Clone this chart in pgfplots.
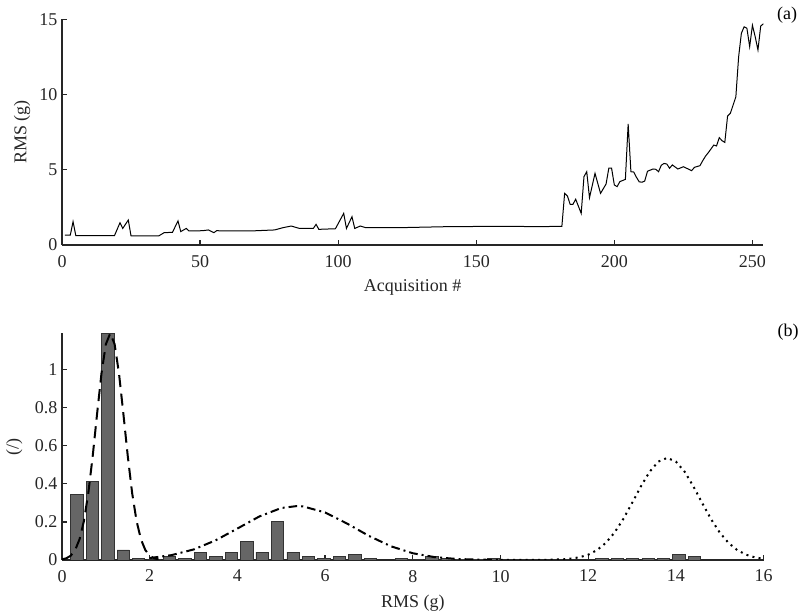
\documentclass[border=0pt]{standalone}
\usepackage{fontspec}
\setmainfont{Liberation Serif}
\usepackage{pgfplots}
\pgfplotsset{compat=1.18}
\definecolor{axgray}{HTML}{262626}
\definecolor{bargray}{HTML}{666666}

\pgfplotsset{
  panel/.style={
    scale only axis,
    axis x line*=bottom, axis y line*=left,
    axis line style={axgray, line width=1pt},
    tick align=inside,
    major tick length=4pt,
    tick style={axgray, line width=1pt},
    every tick label/.append style={font=\fontsize{13.5}{16}\selectfont, text=axgray},
    label style={font=\fontsize{13.5}{16}\selectfont, text=axgray},
    /pgf/number format/assume math mode=true,
    xticklabel style={yshift=-4pt},
  },
}

\begin{document}
\begin{tikzpicture}
\path[use as bounding box] (0,0) rectangle (598.5pt,462pt);

% (a) RMS per acquisition
\begin{axis}[panel,
  at={(46.5pt,278.25pt)}, anchor=south west,
  width=526.1pt, height=169.3pt,
  xmin=0, xmax=254, ymin=0, ymax=15,
  xtick={0,50,100,150,200,250}, ytick={0,5,10,15},
  xlabel={Acquisition \#}, ylabel={RMS (g)},
  xlabel style={at={(axis description cs:0.5,-0.19)}, anchor=center},
  ylabel style={at={(axis description cs:-0.057,0.5)}, anchor=center, rotate=0},
]
\addplot[black, line width=0.75pt] coordinates {
  (1,0.65)(3,0.65)(4,1.55)(5,0.63)(19,0.62)(21,1.48)(22,1.1)(24,1.66)(25,0.6)
  (35,0.6)(37,0.82)(40,0.84)(42,1.6)(43,0.89)(45,1.1)(46,0.93)(51,0.95)(53,1.0)
  (55,0.82)(56,0.95)(60,0.93)(68,0.93)(77,1.0)(80,1.15)(83,1.26)(86,1.1)(91,1.1)
  (92,1.37)(93,1.04)(99,1.08)(102,2.1)(103,1.1)(105,1.88)(106,1.1)(108,1.26)
  (110,1.15)(122,1.15)(140,1.22)(160,1.24)(173,1.22)(181,1.24)
  (182,3.43)(183,3.26)(184,2.7)(185,2.7)(186,3.04)(188,2.1)(189,4.54)(190,4.87)
  (191,3.14)(193,4.76)(195,3.43)(197,4.05)(198,5.1)(199,5.1)(200,3.99)(201,3.88)
  (202,4.21)(204,4.36)(205,8.04)(206,4.87)(207,4.85)(208,4.5)(209,4.2)(210,4.17)
  (211,4.25)(212,4.9)(214,5.05)(215,5.03)(216,4.87)(217,5.3)(218,5.42)(219,5.38)
  (220,5.1)(221,5.32)(223,5.05)(225,5.2)(228,4.94)(229,5.16)(231,5.27)(232,5.6)
  (233,5.9)(234,6.13)(236,6.64)(237,6.58)(238,7.13)(239,6.93)(240,6.82)(241,8.57)
  (242,8.75)(244,9.85)(245,12.5)(246,14.07)(247,14.5)(248,14.4)(249,13.18)
  (250,14.6)(251,13.84)(252,12.96)(253,14.55)(254,14.7)
};
\end{axis}

% (b) histogram with fitted densities
\begin{axis}[panel,
  at={(46.5pt,42pt)}, anchor=south west,
  width=526.2pt, height=170pt,
  xmin=0, xmax=16, ymin=0, ymax=1.19,
  xtick={0,2,...,16}, ytick={0,0.2,0.4,0.6,0.8,1},
  xlabel={RMS (g)}, ylabel={(/)},
  xlabel style={at={(axis description cs:0.5,-0.19)}, anchor=center},
  ylabel style={at={(axis description cs:-0.068,0.5)}, anchor=center},
  clip=true,
]
\addplot[ybar, bar width=0.28, fill=bargray, draw=black!80, line width=0.5pt]
  coordinates {
  (0.340,0.345)(0.692,0.412)(1.044,1.19)(1.396,0.053)(1.748,0.008)(2.100,0.004)
  (2.452,0.018)(2.804,0.009)(3.156,0.041)(3.508,0.018)(3.860,0.041)(4.212,0.099)
  (4.564,0.041)(4.916,0.201)(5.268,0.041)(5.620,0.018)(5.972,0.007)(6.324,0.018)
  (6.676,0.030)(7.028,0.007)(7.732,0.007)(8.084,0.004)(8.436,0.018)(8.788,0.009)
  (9.140,0.005)(9.492,0.004)(9.844,0.007)
  (12.308,0.007)(12.660,0.007)(13.012,0.007)(13.364,0.007)(13.716,0.007)
  (14.068,0.028)(14.420,0.018)
};
\addplot[black, line width=1.5pt, dash pattern=on 9pt off 5pt] coordinates {
  (0,0.0032)(0.1,0.009)(0.2,0.0228)(0.3,0.0523)(0.4,0.1088)(0.5,0.2052)
  (0.6,0.351)(0.7,0.545)(0.8,0.767)(0.9,0.979)(1.0,1.133)(1.1,1.19)
  (1.2,1.133)(1.3,0.979)(1.4,0.767)(1.5,0.545)(1.6,0.351)(1.7,0.2052)
  (1.8,0.1088)(1.9,0.0523)(2.0,0.0228)(2.1,0.009)(2.2,0.0032)
};
\addplot[black, line width=1.5pt, dash pattern=on 6.5pt off 3pt on 1.5pt off 3pt] coordinates {
  (2.0,0.0102)(2.5,0.0256)(3.0,0.0552)(3.5,0.1028)(4.0,0.1651)(4.5,0.2285)
  (5.0,0.2729)(5.35,0.283)(5.5,0.2811)(6.0,0.2497)(6.5,0.1914)(7.0,0.1265)
  (7.5,0.0721)(8.0,0.0354)(8.5,0.0150)(9.0,0.0055)(9.5,0.0017)(10.0,0.0005)
};
\addplot[black, line width=1.5pt, dash pattern=on 1.5pt off 3.2pt] coordinates {
  (10.0,0.00001)(10.5,0.00003)(11.0,0.0004)(11.5,0.0043)(11.8,0.0139)
  (12.0,0.0278)(12.2,0.0518)(12.4,0.0895)(12.6,0.1439)(12.8,0.2151)
  (13.0,0.2988)(13.2,0.3859)(13.4,0.4632)(13.6,0.5168)(13.8,0.536)
  (14.0,0.5168)(14.2,0.4632)(14.4,0.3859)(14.6,0.2988)(14.8,0.2151)
  (15.0,0.1439)(15.2,0.0895)(15.4,0.0518)(15.6,0.0278)(15.8,0.0139)(16.0,0.0064)
};
\end{axis}

\node[font=\fontsize{13.5}{16}\selectfont, text=black] at (590.25pt,450.75pt) {(a)};
\node[font=\fontsize{13.5}{16}\selectfont, text=black] at (591pt,213pt) {(b)};
\end{tikzpicture}
\end{document}
